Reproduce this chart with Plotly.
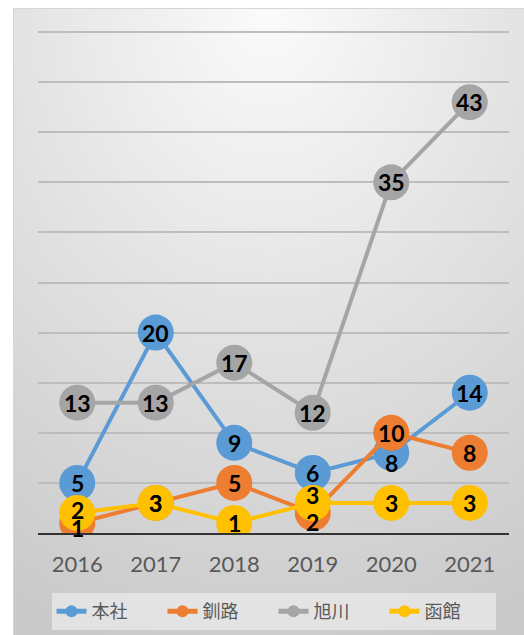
import base64
import plotly.graph_objects as go

years = [2016, 2017, 2018, 2019, 2020, 2021]
honsha = [5, 20, 9, 6, 8, 14]
kushiro = [1, 3, 5, 2, 10, 8]
asahikawa = [13, 13, 17, 12, 35, 43]
hakodate = [2, 3, 1, 3, 3, 3]

series = [
    ("本社", honsha, "#5B9BD5", [0, 0, 0, 0, -10, 0]),
    ("釧路", kushiro, "#ED7D31", [-5, 0, 0, -9, 0, 0]),
    ("旭川", asahikawa, "#A5A5A5", [0, 0, 0, 0, 0, 0]),
    ("函館", hakodate, "#FFC000", [3, 0, 0, 8, 0, 0]),
]

W, H = 524, 635
L, R, T, B = 38, 15, 30, 102
pw, ph = W - L - R, H - T - B

fig = go.Figure()
annotations = []
for name, vals, color, shifts in series:
    fig.add_trace(go.Scatter(
        x=years, y=vals, name=name, mode="lines+markers",
        line=dict(color=color, width=4),
        marker=dict(color=color, size=36),
        hoverinfo="x+y+name",
    ))
for name, vals, color, shifts in series:
    for xv, yv, s in zip(years, vals, shifts):
        annotations.append(dict(
            x=xv, y=yv, text=str(yv), showarrow=False, yshift=s,
            font=dict(family="Lato", size=23, color="#000000", weight="bold"),
            xref="x", yref="y",
        ))

svg = (
    "<svg xmlns='http://www.w3.org/2000/svg' width='511' height='627' viewBox='0 0 511 627' preserveAspectRatio='none'>"
    "<defs><radialGradient id='g' cx='0.5' cy='0' r='1.05' fx='0.5' fy='0'>"
    "<stop offset='0' stop-color='#fbfbfb'/>"
    "<stop offset='0.45' stop-color='#e4e4e4'/>"
    "<stop offset='1' stop-color='#cacaca'/>"
    "</radialGradient></defs>"
    "<rect x='0' y='0' width='511' height='627' fill='url(#g)'/>"
    "<line x1='0.5' y1='0' x2='0.5' y2='627' stroke='#d6d6d6' stroke-width='1'/>"
    "<line x1='0' y1='0.5' x2='511' y2='0.5' stroke='#d6d6d6' stroke-width='1'/>"
    "</svg>"
)
src = "data:image/svg+xml;base64," + base64.b64encode(svg.encode()).decode()

x0 = (13 - L) / pw
y0 = (H - B - 8) / ph
fig.add_layout_image(dict(
    source=src, xref="paper", yref="paper", x=x0, y=y0,
    sizex=(W - 13) / pw, sizey=(H - 8) / ph,
    xanchor="left", yanchor="top", sizing="stretch", layer="below",
))

fig.update_layout(
    width=W, height=H,
    margin=dict(l=L, r=R, t=T, b=B, autoexpand=False),
    paper_bgcolor="#ffffff", plot_bgcolor="rgba(0,0,0,0)",
    showlegend=True,
    legend=dict(
        orientation="h", x=0.5, xanchor="center", y=(H - B - 593) / ph, yanchor="top",
        bgcolor="rgba(245,245,245,0.55)", borderwidth=0,
        font=dict(family="Noto Sans CJK JP", size=18, color="#595959"),
        itemsizing="constant", traceorder="normal",
        entrywidth=66, entrywidthmode="pixels",
    ),
    annotations=annotations,
    xaxis=dict(
        range=[2015.5, 2021.5], tickmode="array", tickvals=years,
        ticktext=[str(y) for y in years],
        showgrid=False, showline=True, linecolor="#333333", linewidth=2,
        ticks="outside", ticklen=11, tickcolor="rgba(0,0,0,0)",
        tickfont=dict(family="Lato", size=22, color="#595959"),
        fixedrange=True, zeroline=False, automargin=False,
    ),
    yaxis=dict(
        range=[0, 50.2], tickmode="array", tickvals=[5, 10, 15, 20, 25, 30, 35, 40, 45, 50],
        showgrid=True, gridcolor="#bdbdbd", gridwidth=1.5,
        showticklabels=False, zeroline=False, showline=False, fixedrange=True,
        automargin=False,
    ),
)

fig.write_html("out.html")
